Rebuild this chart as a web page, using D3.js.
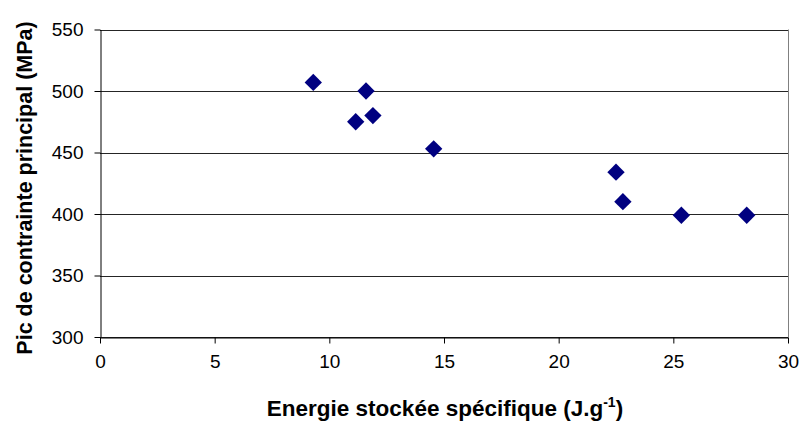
<!DOCTYPE html>
<html><head><meta charset="utf-8">
<script src="https://cdn.jsdelivr.net/npm/d3@7"></script>
<style>body{margin:0;background:#fff}svg{display:block}text{font-family:"Liberation Sans",Arial,sans-serif}</style>
</head><body><svg id="c" width="800" height="421"></svg>
<script>
const energy = [9.3, 11.6, 11.15, 11.9, 14.55, 22.5, 22.8, 25.35, 28.2];
const stress = [507, 500, 475, 480, 453, 434, 410, 399, 399];
const xTicks = [0, 5, 10, 15, 20, 25, 30];
const yTicks = [300, 350, 400, 450, 500, 550];
const xTitle = "Energie stockée spécifique (J.g";
const yTitle = "Pic de contrainte principal (MPa)";

const svg = d3.select("#c");
const m = {l: 100, r: 788, t: 29.5, b: 337};
const x = d3.scaleLinear().domain([0, 30]).range([m.l, m.r]);
const y = d3.scaleLinear().domain([300, 550]).range([m.b, m.t]);

// gridlines
svg.append("g").selectAll("line").data(yTicks).join("line")
  .attr("x1", m.l).attr("x2", m.r)
  .attr("y1", d => Math.round(y(d)) + 0.5).attr("y2", d => Math.round(y(d)) + 0.5)
  .attr("stroke", "#000").attr("stroke-width", 1).attr("opacity", 0.85);
// right border
svg.append("line").attr("x1", m.r + 0.5).attr("x2", m.r + 0.5).attr("y1", m.t).attr("y2", m.b)
  .attr("stroke", "#808080");

const xAxis = svg.append("g").attr("transform", `translate(0,${Math.round(m.b) + 0.5})`)
  .call(d3.axisBottom(x).tickValues(xTicks).tickSize(6).tickPadding(8).tickSizeOuter(0));
const yAxis = svg.append("g").attr("transform", `translate(${m.l + 0.5},0)`)
  .call(d3.axisLeft(y).tickValues(yTicks).tickSize(6).tickPadding(11).tickSizeOuter(0));
[xAxis, yAxis].forEach(g => {
  g.select(".domain").attr("stroke", "#000");
  g.selectAll(".tick line").attr("stroke", "#000");
  g.selectAll("text").attr("font-size", 19).attr("fill", "#000")
   .style("font-family", '"Liberation Sans", Arial, sans-serif');
});
xAxis.selectAll("text").attr("dy", "0.85em");

// markers
const sym = d3.symbol().type(d3.symbolSquare).size(150);
svg.append("g").selectAll("path").data(energy.map((e, i) => [e, stress[i]])).join("path")
  .attr("d", sym)
  .attr("transform", d => `translate(${x(d[0])},${y(d[1])}) rotate(45)`)
  .attr("fill", "#000080");

// titles
const xt = svg.append("text").attr("x", 445).attr("y", 415.5)
  .attr("text-anchor", "middle").attr("font-weight", "bold").attr("font-size", 22.5);
xt.append("tspan").text(xTitle);
xt.append("tspan").attr("font-size", 14).attr("dy", -9).text("-1");
xt.append("tspan").attr("dy", 9).text(")");

svg.append("text").attr("transform", `translate(31.5,188) rotate(-90)`)
  .attr("text-anchor", "middle").attr("font-weight", "bold").attr("font-size", 21.5)
  .text(yTitle);
</script></body></html>
